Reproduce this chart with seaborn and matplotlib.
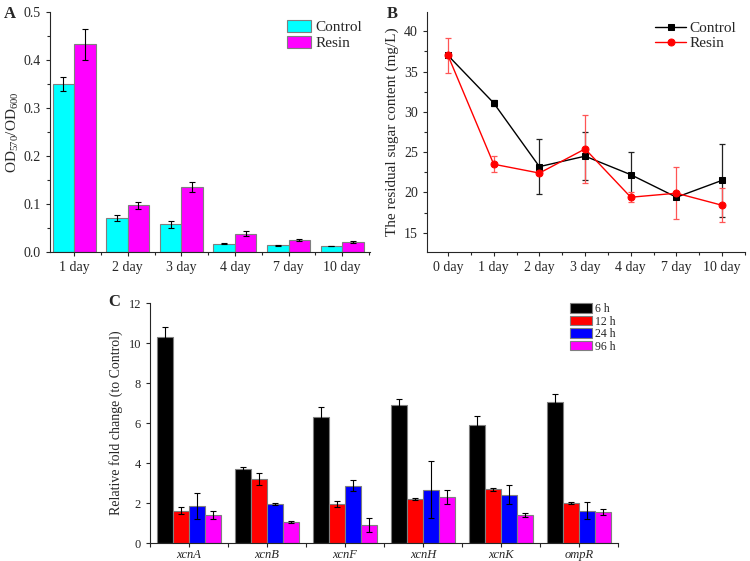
import numpy as np
import pandas as pd
import matplotlib
matplotlib.use("Agg")
import matplotlib.pyplot as plt
from matplotlib.ticker import MultipleLocator, FixedLocator
import seaborn as sns

# panel A: biofilm OD570/OD600
days_a = ["1 day", "2 day", "3 day", "4 day", "7 day", "10 day"]
control_a = [0.350, 0.071, 0.058, 0.017, 0.014, 0.013]
control_a_err = [0.014, 0.006, 0.007, 0.001, 0.001, 0.0005]
resin_a = [0.433, 0.097, 0.135, 0.038, 0.025, 0.021]
resin_a_err = [0.032, 0.007, 0.010, 0.005, 0.002, 0.002]

# panel B: residual sugar
days_b = ["0 day", "1 day", "2 day", "3 day", "4 day", "7 day", "10 day"]
control_b = [37.0, 31.1, 23.2, 24.5, 22.2, 19.4, 21.5]
control_b_err = [0.2, 0.4, 3.4, 3.0, 2.8, 0.2, 4.5]
resin_b = [37.0, 23.5, 22.4, 25.4, 19.4, 19.9, 18.4]
resin_b_err = [2.15, 1.0, 0.2, 4.2, 0.65, 3.2, 2.1]

# panel C: relative fold change
genes = ["xcnA", "xcnB", "xcnF", "xcnH", "xcnK", "ompR"]
times = ["6 h", "12 h", "24 h", "96 h"]
fold = {
    "6 h": [10.28, 3.70, 6.28, 6.92, 5.90, 7.07],
    "12 h": [1.62, 3.20, 1.95, 2.20, 2.68, 2.00],
    "24 h": [1.85, 1.95, 2.87, 2.67, 2.42, 1.62],
    "96 h": [1.40, 1.05, 0.88, 2.30, 1.38, 1.55],
}
fold_err = {
    "6 h": [0.52, 0.12, 0.50, 0.28, 0.45, 0.38],
    "12 h": [0.18, 0.28, 0.14, 0.04, 0.06, 0.06],
    "24 h": [0.67, 0.03, 0.28, 1.43, 0.47, 0.42],
    "96 h": [0.18, 0.03, 0.35, 0.33, 0.10, 0.15],
}

sns.set_style("ticks")
plt.rcParams["font.family"] = ["Liberation Serif", "DejaVu Serif"]
plt.rcParams["mathtext.default"] = "regular"
plt.rcParams["xtick.direction"] = "out"
plt.rcParams["ytick.direction"] = "out"

fig = plt.figure(figsize=(7.5, 5.61), dpi=100)
W, H = 750, 561


def box(x0, y0, x1, y1):
    return [x0 / W, 1 - y1 / H, (x1 - x0) / W, (y1 - y0) / H]


edge = "#7f7f7f"

# ---------- A
axA = fig.add_axes(box(50, 12, 370, 252))
dfa = pd.DataFrame({
    "day": days_a * 2,
    "group": ["Control"] * 6 + ["Resin"] * 6,
    "val": control_a + resin_a,
})
sns.barplot(data=dfa, x="day", y="val", hue="group", order=days_a,
            palette=["#00FFFF", "#FF00FF"], saturation=1, edgecolor=edge,
            linewidth=0.8, errorbar=None, width=0.8, ax=axA)
for cont, errs in zip(axA.containers, [control_a_err, resin_a_err]):
    xs = [p.get_x() + p.get_width() / 2 for p in cont]
    ys = [p.get_height() for p in cont]
    axA.errorbar(xs, ys, yerr=errs, fmt="none", ecolor="black",
                 elinewidth=0.8, capsize=2.5, capthick=0.8)
axA.set_xlim(-0.45, 5.52)
axA.set_ylim(0, 0.5)
axA.yaxis.set_major_locator(MultipleLocator(0.1))
axA.yaxis.set_minor_locator(MultipleLocator(0.05))
axA.xaxis.set_minor_locator(FixedLocator(np.arange(-0.5, 6, 1)))
axA.set_yticks(np.arange(0, 0.51, 0.1))
axA.set_yticklabels(["0.0", "0.1", "0.2", "0.3", "0.4", "0.5"])
axA.set_xlabel("")
axA.set_ylabel("OD$_{570}$/OD$_{600}$", fontsize=11, labelpad=2)
axA.tick_params(labelsize=10, length=3, width=0.8)
axA.tick_params(which="minor", length=2, width=0.8)
sns.despine(ax=axA)
axA.legend(loc="upper right", frameon=False, fontsize=11, handlelength=1.6,
           handleheight=0.9, handletextpad=0.3, labelspacing=0.1,
           borderaxespad=0.1)

# ---------- B
axB = fig.add_axes(box(427, 12, 745, 252))
dfb = pd.DataFrame({
    "day": days_b * 2,
    "group": ["Control"] * 7 + ["Resin"] * 7,
    "val": control_b + resin_b,
})
sns.pointplot(data=dfb, x="day", y="val", hue="group", order=days_b,
              palette=["black", "red"], markers=["s", "o"], errorbar=None,
              linewidth=1.0, markersize=5, ax=axB)
xs_b = np.arange(len(days_b))
axB.errorbar(xs_b, control_b, yerr=control_b_err, fmt="none", ecolor="#222222",
             elinewidth=0.9, capsize=2.5, capthick=0.9, zorder=1)
axB.errorbar(xs_b, resin_b, yerr=resin_b_err, fmt="none", ecolor="#ff5555",
             elinewidth=0.9, capsize=2.5, capthick=0.9, zorder=1)
axB.set_xlim(-0.46, 6.5)
axB.set_ylim(12.6, 42.4)
axB.yaxis.set_major_locator(MultipleLocator(5))
axB.yaxis.set_minor_locator(MultipleLocator(2.5))
axB.xaxis.set_minor_locator(FixedLocator(np.arange(-0.5, 7, 1)))
axB.set_xlabel("")
axB.set_ylabel("The residual sugar content (mg/L)", fontsize=11)
axB.tick_params(labelsize=10, length=3, width=0.8)
axB.tick_params(which="minor", length=2, width=0.8)
sns.despine(ax=axB)
axB.legend(loc="upper right", frameon=False, fontsize=11, handlelength=2.0,
           handletextpad=0.2, labelspacing=0.1, borderaxespad=0.2)

# ---------- C
axC = fig.add_axes(box(150, 303, 618, 543))
dfc = pd.DataFrame({
    "gene": genes * 4,
    "time": [t for t in times for _ in genes],
    "val": [v for t in times for v in fold[t]],
})
sns.barplot(data=dfc, x="gene", y="val", hue="time", order=genes,
            hue_order=times, palette=["#000000", "#FF0000", "#0000FF", "#FF00FF"],
            saturation=1, edgecolor=edge, linewidth=0.8, errorbar=None,
            width=0.82, ax=axC)
for cont, t in zip(axC.containers, times):
    xs = [p.get_x() + p.get_width() / 2 for p in cont]
    ys = [p.get_height() for p in cont]
    axC.errorbar(xs, ys, yerr=fold_err[t], fmt="none", ecolor="black",
                 elinewidth=0.8, capsize=2.5, capthick=0.8)
axC.set_xlim(-0.5, 5.5)
axC.set_ylim(0, 12)
axC.yaxis.set_major_locator(MultipleLocator(2))
axC.xaxis.set_minor_locator(FixedLocator(np.arange(-0.5, 6, 1)))
axC.set_xlabel("")
axC.set_ylabel("Relative fold change (to Control)", fontsize=10)
axC.tick_params(labelsize=9, length=3, width=0.8)
axC.tick_params(axis="x", pad=1.5)
axC.tick_params(which="minor", length=3, width=0.8)
for lab in axC.get_xticklabels():
    lab.set_fontstyle("italic")
sns.despine(ax=axC)
axC.legend(loc="upper left", bbox_to_anchor=(420 / 468, 1.0), frameon=False,
           fontsize=8.5, handlelength=1.9, handleheight=0.85, handletextpad=0.2,
           labelspacing=0.05, borderaxespad=0.0, borderpad=0.0)

for t, x, y in [("A", 4, 14), ("B", 387, 14), ("C", 108, 302)]:
    fig.text(x / W, 1 - y / H, t, fontsize=12, fontweight="bold",
             va="center", ha="left")

fig.savefig("out.png", dpi=100)
